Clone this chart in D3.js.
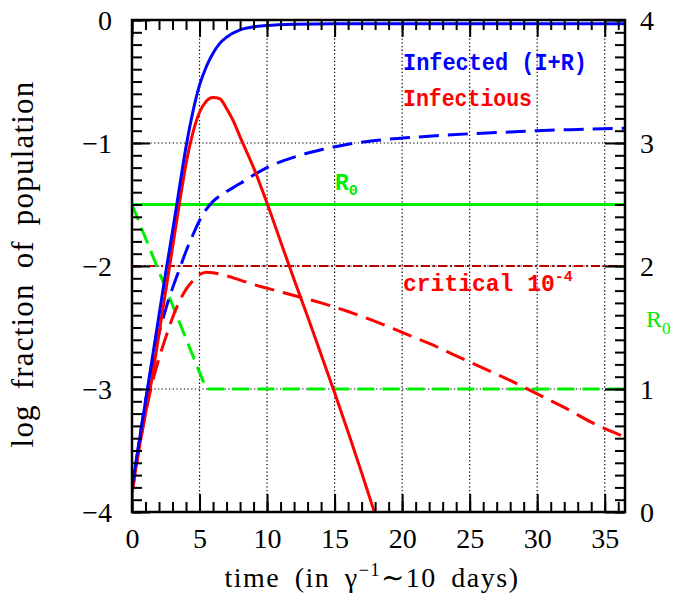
<!DOCTYPE html>
<html>
<head>
<meta charset="utf-8">
<script src="https://cdn.jsdelivr.net/npm/d3@7"></script>
<style>
  body { margin: 0; background: #fff; }
  svg { display: block; }
</style>
</head>
<body>
<svg id="chart" width="686" height="601"></svg>
<script>
// time in units of 1/gamma (~10 days)
const tInfected = [0, 0.5, 1, 1.5, 2, 2.5, 3, 3.5, 4, 4.5, 5, 5.5, 6, 6.5, 7, 8, 9, 10, 12, 15, 20, 25, 30, 36.5]
const logInfected = [-3.8, -3.45, -3.1, -2.75, -2.4, -2.05, -1.72, -1.37, -1.03, -0.75, -0.53, -0.38, -0.27, -0.19, -0.14, -0.08, -0.055, -0.045, -0.035, -0.03, -0.03, -0.03, -0.03, -0.03]

const tInfectious = [0, 0.5, 1, 1.5, 2, 2.5, 3, 3.5, 4, 4.5, 5, 5.5, 6, 6.5, 7, 7.5, 8, 9, 10, 11, 12, 13, 14, 15, 16, 17, 18]
const logInfectious = [-3.85, -3.5, -3.2, -2.9, -2.55, -2.2, -1.85, -1.5, -1.17, -0.92, -0.75, -0.66, -0.63, -0.64, -0.72, -0.82, -0.95, -1.2, -1.49, -1.8, -2.11, -2.41, -2.72, -3.03, -3.35, -3.68, -4.02]

// with R0 reduced (dashed)
const tInfectedLow = [0, 0.5, 1, 1.5, 2, 2.5, 3, 3.5, 4, 4.5, 5, 5.5, 6, 6.5, 7, 8, 9, 10, 12, 14, 16, 18, 20, 22, 25, 28, 30, 33, 36.5]
const logInfectedLow = [-3.82, -3.45, -3.1, -2.8, -2.55, -2.35, -2.18, -2.03, -1.88, -1.75, -1.63, -1.54, -1.475, -1.43, -1.395, -1.33, -1.26, -1.2, -1.115, -1.055, -1.01, -0.98, -0.96, -0.945, -0.925, -0.91, -0.9, -0.89, -0.88]

const tInfectiousLow = [0, 0.5, 1, 1.5, 2, 2.5, 3, 3.5, 4, 4.5, 5, 5.5, 6, 7, 8, 9, 10, 12, 14, 16, 18, 20, 22, 24, 26, 28, 30, 32, 34, 36.5]
const logInfectiousLow = [-3.85, -3.5, -3.2, -2.95, -2.75, -2.58, -2.42, -2.29, -2.19, -2.12, -2.07, -2.05, -2.055, -2.08, -2.115, -2.15, -2.18, -2.24, -2.3, -2.37, -2.45, -2.54, -2.63, -2.73, -2.83, -2.93, -3.04, -3.15, -3.27, -3.39]

// R0 (right axis)
const tR0 = [0, 36.5]
const r0Const = [2.5, 2.5]
const tR0Low = [0, 5.5, 36.5]
const r0Low = [2.5, 1.0, 1.0]

const criticalLog = -2

const xMajor = [0, 5, 10, 15, 20, 25, 30, 35]
const yMajor = [0, -1, -2, -3, -4]
const r0Major = [0, 1, 2, 3, 4]

const svg = d3.select('#chart')
const x = d3.scaleLinear().domain([0, 36.5]).range([132, 625])
const y = d3.scaleLinear().domain([-4, 0]).range([512, 20])
const yR = d3.scaleLinear().domain([0, 4]).range([512, 20])

const BLUE = '#0000ff'
const RED = '#ff0000'
const GREEN = '#00ee00'
const DARKRED = '#b80000'

svg.append('defs').append('clipPath').attr('id', 'plot-clip')
  .append('rect')
  .attr('x', x(0)).attr('y', y(0))
  .attr('width', x(36.5) - x(0)).attr('height', y(-4) - y(0))

// dotted grid
const grid = svg.append('g')
grid.selectAll('.vgrid')
  .data(xMajor.filter(d => d > 0))
  .enter().append('line')
  .attr('x1', d => x(d)).attr('x2', d => x(d))
  .attr('y1', y(0)).attr('y2', y(-4))
grid.selectAll('.hgrid')
  .data([-1, -2, -3])
  .enter().append('line')
  .attr('x1', x(0)).attr('x2', x(36.5))
  .attr('y1', d => y(d)).attr('y2', d => y(d))
grid.selectAll('line')
  .attr('stroke', '#000')
  .attr('stroke-width', 1.2)
  .attr('stroke-dasharray', '1.3,2.4')

const plot = svg.append('g').attr('clip-path', 'url(#plot-clip)')

const zip = (ts, vs) => ts.map((t, i) => ({ t, v: vs[i] }))
const line = d3.line().x(d => x(d.t)).y(d => y(d.v)).curve(d3.curveMonotoneX)
const lineR = d3.line().x(d => x(d.t)).y(d => yR(d.v))

// critical level
plot.append('line')
  .attr('x1', x(0)).attr('x2', x(36.5))
  .attr('y1', y(criticalLog)).attr('y2', y(criticalLog))
  .attr('stroke', DARKRED)
  .attr('stroke-width', 2)
  .attr('stroke-dasharray', '9,3,2,3')

const series = [
  { data: zip(tR0, r0Const), gen: lineR, color: GREEN, dash: null },
  { data: zip(tR0Low, r0Low), gen: lineR, color: GREEN, dash: '17,8' },
  { data: zip(tInfectiousLow, logInfectiousLow), gen: line, color: RED, dash: '20,9' },
  { data: zip(tInfectedLow, logInfectedLow), gen: line, color: BLUE, dash: '20,9' },
  { data: zip(tInfectious, logInfectious), gen: line, color: RED, dash: null },
  { data: zip(tInfected, logInfected), gen: line, color: BLUE, dash: null },
]
plot.selectAll('.series')
  .data(series)
  .enter().append('path')
  .attr('fill', 'none')
  .attr('stroke', d => d.color)
  .attr('stroke-width', 3)
  .attr('stroke-dasharray', d => d.dash)
  .attr('d', d => d.gen(d.data))

// axes: minor + major ticks, pointing inward
const tickFont = 'Liberation Serif, DejaVu Serif, serif'
function addAxis(axis, transform) {
  const g = svg.append('g').attr('transform', transform).call(axis)
  g.select('.domain').remove()
  g.selectAll('line').attr('stroke', '#000').attr('stroke-width', 2)
  g.selectAll('text')
    .attr('font-family', tickFont)
    .attr('font-size', 28)
    .attr('fill', '#000')
  return g
}
const noLabel = () => ''
const yMinor = d3.range(0, 41).map(i => -i / 10)
const r0Minor = d3.range(0, 41).map(i => i / 10)

addAxis(d3.axisBottom(x).tickValues(d3.range(0, 37)).tickSize(-10).tickFormat(noLabel), `translate(0,${y(-4)})`)
addAxis(d3.axisTop(x).tickValues(d3.range(0, 37)).tickSize(-10).tickFormat(noLabel), `translate(0,${y(0)})`)
addAxis(d3.axisTop(x).tickValues(xMajor).tickSize(-17).tickFormat(noLabel), `translate(0,${y(0)})`)
addAxis(d3.axisBottom(x).tickValues(xMajor).tickSize(-18).tickFormat(d3.format('d')), `translate(0,${y(-4)})`)
  .selectAll('text').attr('y', 36).attr('dy', null)

addAxis(d3.axisLeft(y).tickValues(yMinor).tickSize(-10).tickFormat(noLabel), `translate(${x(0)},0)`)
addAxis(d3.axisLeft(y).tickValues(yMajor).tickSize(-18).tickPadding(20).tickFormat(d3.format('d')), `translate(${x(0)},0)`)
  .selectAll('text').attr('dy', '0.33em')

addAxis(d3.axisRight(yR).tickValues(r0Minor).tickSize(-10).tickFormat(noLabel), `translate(${x(36.5)},0)`)
addAxis(d3.axisRight(yR).tickValues(r0Major).tickSize(-20).tickPadding(15).tickFormat(d3.format('d')), `translate(${x(36.5)},0)`)
  .selectAll('text').attr('dy', '0.33em')

// frame
svg.append('rect')
  .attr('x', x(0)).attr('y', y(0))
  .attr('width', x(36.5) - x(0)).attr('height', y(-4) - y(0))
  .attr('fill', 'none')
  .attr('stroke', '#000')
  .attr('stroke-width', 2.5)

// axis titles
const xTitle = svg.append('text')
  .attr('x', 372).attr('y', 587)
  .attr('text-anchor', 'middle')
  .attr('font-family', tickFont)
  .attr('font-size', 28)
  .attr('letter-spacing', 1.5)
  .attr('word-spacing', 6)
xTitle.append('tspan').text('time (in γ')
xTitle.append('tspan').attr('font-size', 18).attr('dy', -11).text('−1')
xTitle.append('tspan').attr('dy', 11).text('∼10 days)')

svg.append('text')
  .attr('transform', 'translate(33,264) rotate(-90)')
  .attr('text-anchor', 'middle')
  .attr('font-family', tickFont)
  .attr('font-size', 31)
  .attr('letter-spacing', 1.2)
  .attr('word-spacing', 6)
  .text('log fraction of population')

// labels inside the plot
const labelFont = 'Liberation Mono, DejaVu Sans Mono, monospace'
function label(xp, yp, color) {
  return svg.append('text')
    .attr('x', xp).attr('y', yp)
    .attr('fill', color)
    .attr('font-family', labelFont)
    .attr('font-weight', 'bold')
    .attr('font-size', 23)
}
label(403, 70, BLUE).attr('textLength', 184).attr('lengthAdjust', 'spacingAndGlyphs').text('Infected (I+R)')
label(403, 106, RED).attr('textLength', 129).attr('lengthAdjust', 'spacingAndGlyphs').text('Infectious')
const crit = label(403, 291, RED)
crit.append('tspan').text('critical 10')
crit.append('tspan').attr('font-size', 15).attr('dy', -10).text('-4')

const r0In = label(335, 190, GREEN)
r0In.append('tspan').text('R')
r0In.append('tspan').attr('font-size', 15).attr('dy', 5).text('0')

const r0Out = svg.append('text')
  .attr('x', 646).attr('y', 327)
  .attr('fill', GREEN)
  .attr('font-family', tickFont)
  .attr('font-size', 24)
r0Out.append('tspan').text('R')
r0Out.append('tspan').attr('font-size', 17).attr('dy', 7).text('0')
</script>
</body>
</html>
